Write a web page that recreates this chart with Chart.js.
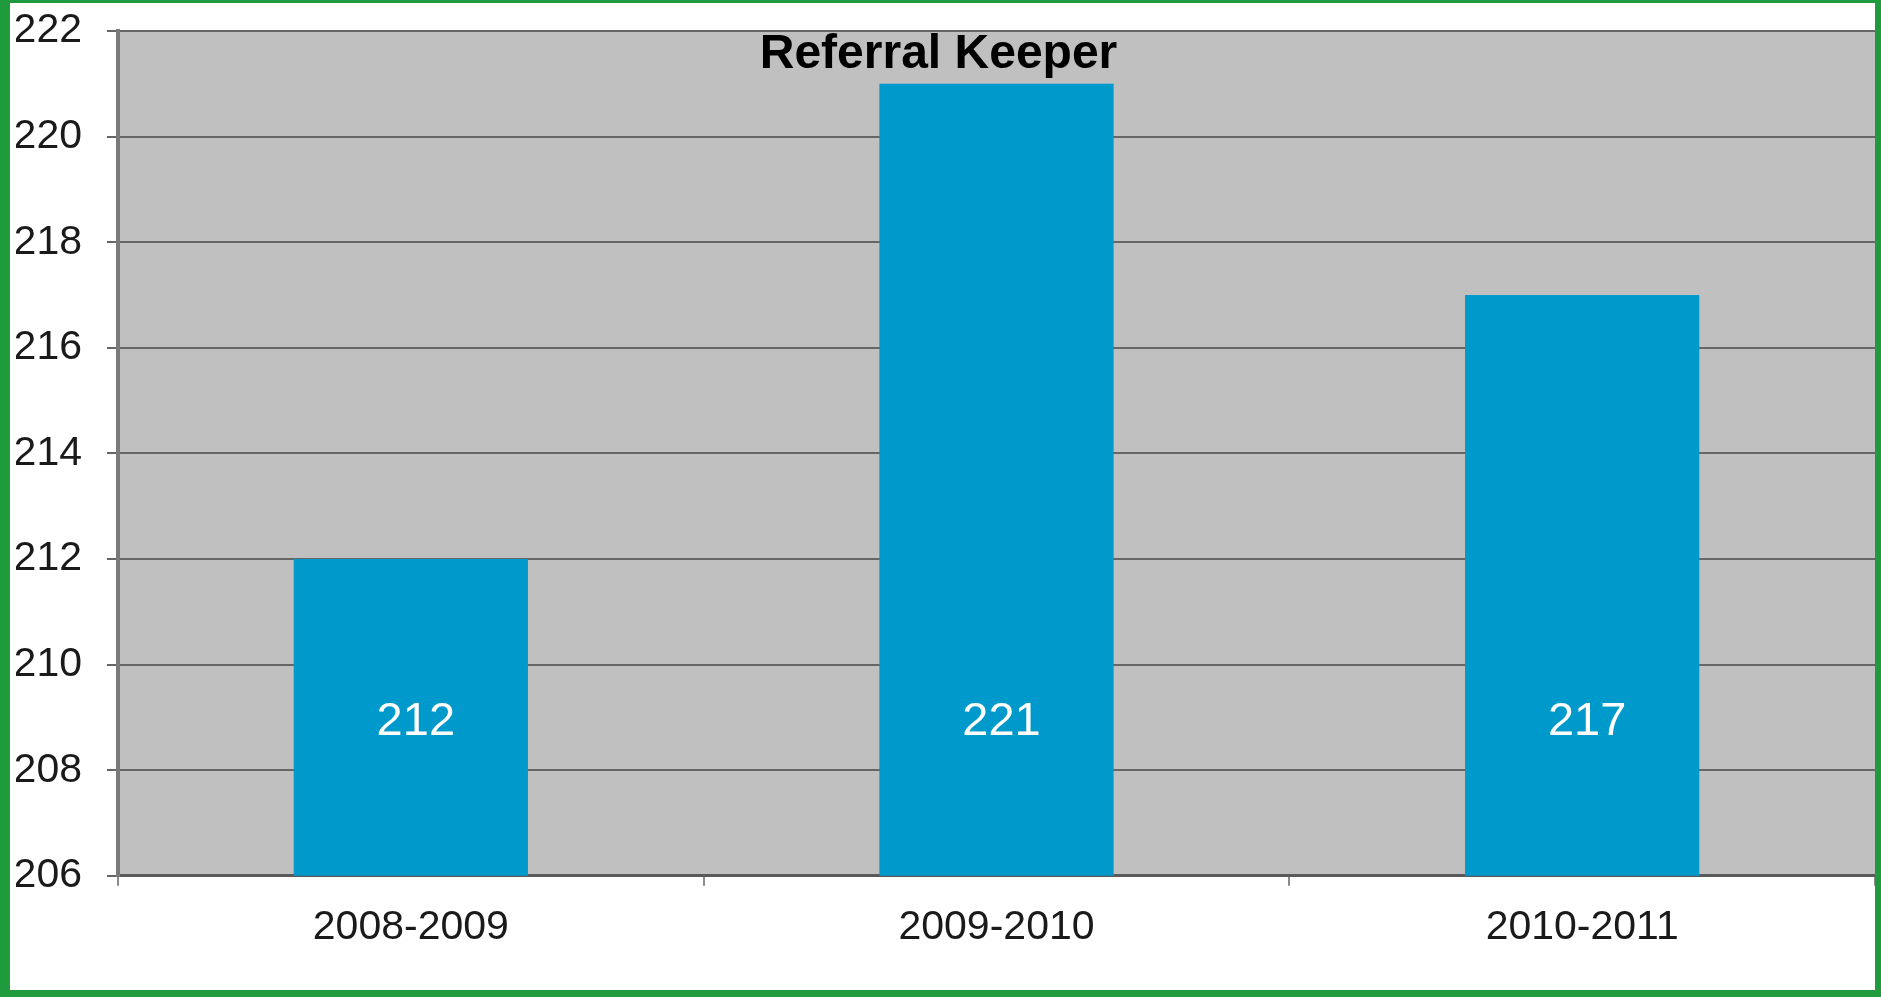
<!DOCTYPE html>
<html>
<head>
<meta charset="utf-8">
<script src="https://cdn.jsdelivr.net/npm/chart.js@4/dist/chart.umd.min.js"></script>
<style>
  body { margin: 0; background: #fff; }
  #frame {
    position: absolute; left: 0; top: 0;
    width: 1881px; height: 997px; box-sizing: border-box;
    border-left: 10px solid #1f9a3c; border-top: 3px solid #1f9a3c;
    border-right: 6px solid #1f9a3c; border-bottom: 7px solid #1f9a3c;
    background: #fff;
  }
  #wrap { position: relative; width: 1865px; height: 987px; }
</style>
</head>
<body>
<div id="frame"><div id="wrap"><canvas id="referral-chart"></canvas></div></div>
<script>
// values
let years = ['2008-2009', '2009-2010', '2010-2011'];
let referrals = [212, 221, 217];
let yTicks = [206, 208, 210, 212, 214, 216, 218, 220, 222];
let chartTitle = 'Referral Keeper';

// grey plot background, title inside the plot, white numbers in the bars
let plotDecor = {
    id: 'plotDecor',
    beforeDraw(chart) {
        let a = chart.chartArea;
        let c = chart.ctx;
        c.save();
        c.fillStyle = '#c0c0c0';
        c.fillRect(a.left, a.top, a.right - a.left, a.bottom - a.top);
        c.restore();
    },
    afterDatasetsDraw(chart) {
        let a = chart.chartArea;
        let c = chart.ctx;
        c.save();
        c.fillStyle = '#000';
        c.font = 'bold 48px "Liberation Sans", Arial, sans-serif';
        c.textAlign = 'center';
        c.textBaseline = 'alphabetic';
        c.fillText(chartTitle, a.left + (a.right - a.left) * 0.467, a.top + 37);

        c.fillStyle = '#fff';
        c.font = '47px "Liberation Sans", Arial, sans-serif';
        c.textBaseline = 'middle';
        chart.getDatasetMeta(0).data.forEach(function (bar, i) {
            c.fillText(String(referrals[i]), bar.x + 5, a.bottom - 154);
        });
        c.restore();
    }
};

let ctx = document.getElementById('referral-chart').getContext('2d');
let referralChart = new Chart(ctx, {
    type: 'bar',
    data: {
        labels: years,
        datasets: [{
            label: chartTitle,
            data: referrals,
            backgroundColor: '#0099cc',
            borderWidth: 0,
            barPercentage: 0.4,
            categoryPercentage: 1.0
        }]
    },
    options: {
        responsive: true,
        maintainAspectRatio: false,
        animation: false,
        layout: { padding: { left: 6, top: 28, right: 0, bottom: 21 } },
        plugins: {
            legend: { display: false },
            title: { display: false },
            tooltip: { enabled: false }
        },
        scales: {
            x: {
                grid: {
                    offset: true,
                    drawOnChartArea: false,
                    drawTicks: true,
                    tickLength: 10,
                    color: '#8a8a8a',
                    lineWidth: 2
                },
                border: { color: '#5a5a5a', width: 3 },
                ticks: {
                    color: '#1a1a1a',
                    padding: 17,
                    font: { family: '"Liberation Sans", Arial, sans-serif', size: 41 }
                }
            },
            y: {
                min: 206,
                max: 222,
                afterBuildTicks: function (axis) {
                    axis.ticks = yTicks.map(function (v) { return { value: v }; });
                },
                afterFit: function (axis) {
                    axis.width = 102;
                    axis.paddingTop = 0;
                    axis.paddingBottom = 0;
                },
                grid: {
                    color: '#666666',
                    lineWidth: 2,
                    drawTicks: true,
                    tickLength: 11
                },
                border: { color: '#7a7a7a', width: 4 },
                ticks: {
                    color: '#1a1a1a',
                    padding: 25,
                    font: { family: '"Liberation Sans", Arial, sans-serif', size: 41 }
                }
            }
        }
    },
    plugins: [plotDecor]
});
</script>
</body>
</html>
